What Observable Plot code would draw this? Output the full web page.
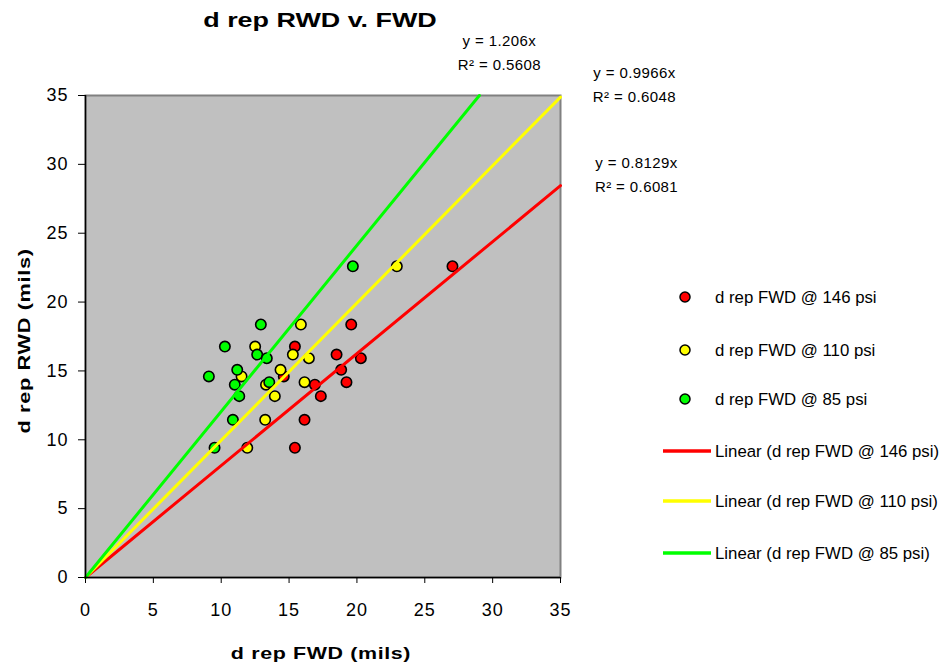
<!DOCTYPE html>
<html>
<head>
<meta charset="utf-8">
<script src="https://cdn.jsdelivr.net/npm/d3@7"></script>
<script src="https://cdn.jsdelivr.net/npm/@observablehq/plot@0.6"></script>
<style>
  body { margin: 0; background: #fff; font-family: Arial, "Liberation Sans", sans-serif; }
  #wrap { position: relative; width: 949px; height: 667px; }
  .ov { position: absolute; white-space: nowrap; color: #000; }
  #wrap g[aria-label$="tick label"] text { letter-spacing: 1px; }
  #wrap g[aria-label="text"] text { letter-spacing: 0.4px; }
</style>
</head>
<body>
<div id="wrap"></div>
<script>
// ---- data ----
const series = ["d rep FWD @ 146 psi", "d rep FWD @ 110 psi", "d rep FWD @ 85 psi"];
const colors = ["#ff0000", "#ffff00", "#00ff00"];
const rwd    = [22.6, 18.37, 16.77, 16.19, 15.92, 15.08, 14.6, 14.18, 14.0, 13.17, 11.45, 9.42];
const fwd146 = [27.04, 19.58, 15.43, 18.50, 20.29, 18.84, 14.61, 19.23, 16.90, 17.34, 16.14, 15.43];
const fwd110 = [22.94, 15.87, 12.50, 15.28, 16.46, 14.37, 11.50, 16.14, 13.30, 13.95, 13.24, 11.92];
const fwd85  = [19.70, 12.92, 10.27, 12.65, 13.36, 11.18, 9.09, 13.54, 11.00, 11.33, 10.86, 9.51];
const slopes = [0.8129, 0.9966, 1.206];
const r2     = ["0.6081", "0.6048", "0.5608"];
const ticks  = [0, 5, 10, 15, 20, 25, 30, 35];

const fwdAll = [fwd146, fwd110, fwd85];
const points = [];
fwdAll.forEach((arr, s) => arr.forEach((x, i) => points.push({x, y: rwd[i], s})));
const maxV = 35;
const lines = [];
slopes.forEach((m, s) => {
  lines.push({x: 0, y: 0, s});
  lines.push({x: Math.min(maxV, maxV / m), y: Math.min(maxV, maxV * m), s});
});
// equation label anchor positions (in data units, outside the plot frame)
const eqPos = [{x: 40.6, y: 29.2}, {x: 40.45, y: 35.73}, {x: 30.5, y: 38.1}];
const eqLabels = slopes.map((m, s) => ({x: eqPos[s].x, y: eqPos[s].y, t1: `y = ${m}x`, t2: `R² = ${r2[s]}`}));

const chart = Plot.plot({
  width: 949,
  height: 667,
  marginLeft: 85,
  marginRight: 389,
  marginTop: 95,
  marginBottom: 90,
  style: {fontFamily: "Arial, 'Liberation Sans', sans-serif", fontSize: "18px", color: "#000", background: "#fff", overflow: "visible"},
  x: {domain: [0, 35], ticks: ticks},
  y: {domain: [0, 35], ticks: ticks},
  marks: [
    Plot.frame({fill: "#c0c0c0", stroke: "#808080", strokeWidth: 2}),
    Plot.dot(points, {x: "x", y: "y", r: 5.2, fill: d => colors[d.s], stroke: "#000", strokeWidth: 1.6}),
    Plot.line(lines, {x: "x", y: "y", z: "s", stroke: d => colors[d.s], strokeWidth: 3}),
    Plot.ruleX([0], {stroke: "#000", strokeWidth: 1.5}),
    Plot.ruleY([0], {stroke: "#000", strokeWidth: 1.5}),
    Plot.axisX({ticks: ticks, tickSize: 6, tickPadding: 20, label: null, fontSize: 18}),
    Plot.axisY({ticks: ticks, tickSize: 7, tickPadding: 10, label: null, fontSize: 18}),
    Plot.text(eqLabels, {x: "x", y: "y", text: "t1", fontSize: 15, dy: -12, clip: false}),
    Plot.text(eqLabels, {x: "x", y: "y", text: "t2", fontSize: 15, dy: 12, clip: false})
  ]
});

const wrap = document.getElementById("wrap");
wrap.appendChild(chart);

function ov(html, css) {
  const d = document.createElement("div");
  d.className = "ov";
  d.innerHTML = html;
  Object.assign(d.style, css);
  wrap.appendChild(d);
}
// title
ov("d rep RWD v. FWD", {left: "320px", top: "20px", fontSize: "21px", fontWeight: "bold", transform: "translate(-50%,-50%) scaleX(1.28)"});
// axis titles
ov("d rep FWD (mils)", {left: "321px", top: "654px", fontSize: "17px", fontWeight: "bold", letterSpacing: "0.5px", transform: "translate(-50%,-50%) scaleX(1.26)"});
ov("d rep RWD (mils)", {left: "25px", top: "341px", fontSize: "17px", fontWeight: "bold", letterSpacing: "0.5px", transform: "translate(-50%,-50%) rotate(-90deg) scaleX(1.28)"});

// legend
const ns = "http://www.w3.org/2000/svg";
const leg = document.createElementNS(ns, "svg");
leg.setAttribute("width", 300);
leg.setAttribute("height", 300);
leg.style.position = "absolute";
leg.style.left = "649px";
leg.style.top = "275px";
leg.style.fontFamily = "Arial, 'Liberation Sans', sans-serif";
const rowsY = [22, 75, 124, 176, 226, 278];
const items = [
  ...series.map((name, s) => ({type: "dot", name, s})),
  ...series.map((name, s) => ({type: "line", name: `Linear (${name})`, s}))
];
items.forEach((it, i) => {
  const y = rowsY[i];
  if (it.type === "dot") {
    const c = document.createElementNS(ns, "circle");
    c.setAttribute("cx", 36); c.setAttribute("cy", y); c.setAttribute("r", 5);
    c.setAttribute("fill", colors[it.s]); c.setAttribute("stroke", "#000"); c.setAttribute("stroke-width", 1.5);
    leg.appendChild(c);
  } else {
    const l = document.createElementNS(ns, "line");
    l.setAttribute("x1", 14); l.setAttribute("x2", 62); l.setAttribute("y1", y); l.setAttribute("y2", y);
    l.setAttribute("stroke", colors[it.s]); l.setAttribute("stroke-width", 3.5);
    leg.appendChild(l);
  }
  const t = document.createElementNS(ns, "text");
  t.setAttribute("x", 66);
  t.setAttribute("y", y);
  t.setAttribute("dy", "0.35em");
  t.setAttribute("font-size", 16.8);
  t.textContent = it.name;
  leg.appendChild(t);
});
wrap.appendChild(leg);
</script>
</body>
</html>
